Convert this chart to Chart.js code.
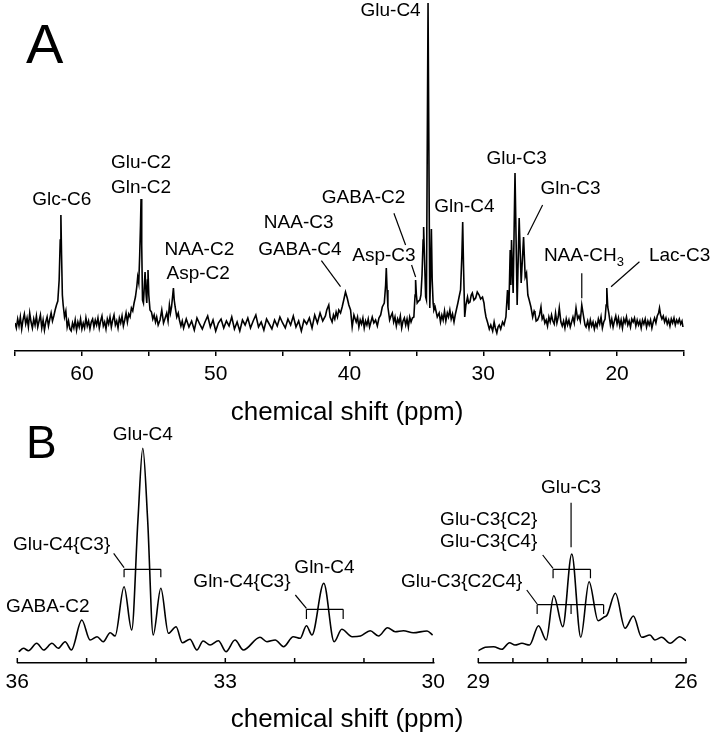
<!DOCTYPE html>
<html>
<head>
<meta charset="utf-8">
<script src="https://cdn.jsdelivr.net/npm/chart.js@4.4.1/dist/chart.umd.min.js"></script>
<style>
  html, body { margin: 0; padding: 0; background: #fff; }
  #wrap { position: relative; width: 714px; height: 737px; }
  canvas { position: absolute; left: 0; top: 0; }
</style>
</head>
<body>
<div id="wrap">
  <canvas id="chartA" width="714" height="737"></canvas>
  <canvas id="chartB1" width="714" height="737"></canvas>
  <canvas id="chartB2" width="714" height="737"></canvas>
</div>
<script>
// ---- panel A : full spectrum (ppm, intensity) ----
const ppmA = [
  65.0,64.9,64.8,64.7,64.6,64.5,64.4,64.3,64.2,64.1,
  64.0,63.9,63.8,63.7,63.6,63.5,63.4,63.3,63.2,63.1,
  63.0,62.9,62.8,62.7,62.6,62.5,62.4,62.3,62.2,62.1,
  62.0,61.9,61.8,61.7,61.62,61.57,61.52,61.46,61.4,61.3,
  61.2,61.1,61.0,60.9,60.8,60.7,60.6,60.5,60.4,60.3,
  60.2,60.1,60.0,59.9,59.8,59.7,59.6,59.5,59.4,59.3,
  59.2,59.1,59.0,58.9,58.8,58.7,58.6,58.5,58.4,58.3,
  58.2,58.1,58.0,57.9,57.8,57.7,57.6,57.5,57.4,57.3,
  57.2,57.1,57.0,56.9,56.8,56.7,56.6,56.5,56.4,56.3,
  56.2,56.1,56.0,55.9,55.83,55.75,55.68,55.62,55.58,55.53,
  55.47,55.4,55.33,55.28,55.2,55.15,55.1,55.06,55.0,54.91,
  54.8,54.7,54.6,54.5,54.41,54.3,54.16,54.03,53.9,53.8,
  53.66,53.56,53.46,53.38,53.3,53.16,53.1,53.03,52.91,52.8,
  52.71,52.6,52.5,
  52.4,52.2,52.0,51.8,51.6,51.4,51.2,51.0,50.8,50.6,
  50.4,50.2,50.0,49.8,49.6,49.4,49.2,49.0,48.8,48.6,
  48.4,48.2,48.0,47.8,47.6,47.4,47.2,47.0,46.8,46.6,
  46.4,46.2,46.0,45.8,45.6,45.4,45.2,45.0,44.8,44.6,
  44.4,44.2,44.0,43.8,43.6,43.4,43.2,43.0,42.8,42.6,
  42.4,42.2,42.0,41.8,
  41.7,41.55,41.45,41.3,41.2,41.1,41.0,40.9,40.8,40.67,
  40.55,40.43,40.3,40.17,40.05,39.92,39.8,39.67,39.5,39.4,
  39.3,39.2,39.1,39.0,38.9,38.8,38.7,38.6,38.5,38.4,
  38.3,38.18,38.05,37.92,37.8,37.67,37.55,37.4,37.3,37.25,
  37.19,37.13,37.0,36.9,36.8,36.7,36.6,36.5,36.4,36.3,
  36.2,36.1,36.0,35.9,35.8,35.7,35.6,35.5,35.4,35.3,
  35.19,35.1,35.06,35.0,34.94,34.84,34.74,34.66,34.58,34.5,
  34.46,34.38,34.31,34.25,34.13,34.0,33.94,33.88,
  33.82,33.75,33.69,33.6,33.44,33.3,33.2,33.1,33.0,32.9,
  32.8,32.69,32.6,32.5,32.4,32.3,32.19,32.1,32.0,31.9,
  31.81,31.7,31.6,31.54,31.48,31.39,31.3,31.18,31.1,31.0,
  30.9,30.82,30.7,30.57,30.45,30.31,30.2,30.06,29.95,29.89,
  29.8,29.69,29.55,29.44,29.3,29.19,29.1,28.99,28.9,28.81,
  28.7,28.56,28.45,
  28.31,28.19,28.09,27.99,27.94,27.89,27.77,27.63,27.47,27.32,
  27.17,26.99,26.87,26.77,26.67,26.57,26.44,26.31,26.2,26.14,
  26.05,25.94,
  25.8,25.69,25.6,25.5,25.4,25.3,25.2,25.1,25.0,24.9,
  24.8,24.7,24.6,24.5,24.4,24.32,24.2,24.1,24.0,23.9,
  23.8,23.7,23.6,23.5,23.4,23.3,23.2,23.07,22.95,22.85,
  22.75,22.64,22.5,22.4,22.32,22.2,22.1,22.0,21.9,21.8,
  21.7,21.6,21.5,21.4,21.3,21.2,21.1,21.0,20.9,20.82,
  20.77,20.7,20.62,20.5,20.4,20.3,20.2,20.1,20.0,19.9,
  19.8,19.7,19.6,19.5,19.4,19.3,19.2,19.1,19.0,18.9,
  18.8,18.7,18.6,18.5,18.4,18.3,18.2,18.1,18.0,17.9,
  17.8,17.7,17.6,17.5,17.4,17.3,17.2,17.1,17.0,16.9,
  16.83,16.75,16.65,16.55,16.45,16.35,16.25,16.15,16.05,15.95,
  15.85,15.75,15.65,15.55,15.45,15.35,15.25,15.15,15.08
];
const intA = [
  2,-3,6,-1,8,-4,5,11,1,7,
  -2,12,3,-3,6,0,9,-2,4,10,
  -3,5,-5,3,8,-1,6,12,4,9,
  15,20,24,45,85,110,70,30,20,8,
  14,-2,4,-4,-6,2,-3,5,-5,3,
  -2,6,-4,2,-3,7,-1,4,-4,3,
  6,-2,5,0,7,-3,4,9,-1,3,
  -4,6,1,8,-2,5,10,0,4,-3,
  7,2,9,-1,5,12,3,11,8,17,
  14,22,28,38,48,42,70,100,126,80,
  25,22,40,53,30,22,45,55,30,15,
  13,6,10,3,8,0,5,15,2,6,
  12,4,20,12,18,37,25,18,8,12,
  5,-1,4,
  -3,6,-2,4,-5,7,1,-4,3,9,
  -2,5,-6,2,6,-3,4,-1,8,-4,
  3,-6,5,0,7,-3,4,10,-2,3,
  -5,6,1,-4,5,-1,8,2,-3,6,
  0,9,-2,4,-6,5,1,7,-3,10,
  2,12,4,9,
  15,20,8,3,10,6,13,8,15,12,
  18,25,33,27,20,15,-2,10,3,8,
  -2,5,1,7,-3,4,0,6,-2,3,
  8,2,5,-1,7,10,18,22,40,57,
  35,18,5,9,12,3,8,-1,6,2,
  9,-3,4,7,0,6,-2,8,3,7,
  8,30,45,30,22,24,25,30,50,85,
  98,60,28,25,322,17,50,96,
  45,22,15,18,8,12,3,10,5,14,
  4,12,8,15,6,11,3,10,16,22,
  28,35,70,103,60,8,20,28,22,23,
  30,32,25,27,33,30,26,28,22,15,
  8,3,-4,0,-6,3,-3,-8,-2,0,
  -4,3,0,
  8,35,15,75,40,85,32,152,20,107,
  42,88,48,52,30,25,18,8,14,12,
  4,5,
  10,18,6,9,2,5,-1,8,3,10,
  4,1,12,2,8,17,3,-1,4,-3,
  6,0,5,-2,3,8,2,17,6,9,
  4,20,8,0,-2,4,-3,5,-1,3,
  -4,2,-2,6,1,8,-3,3,6,20,
  37,18,12,0,6,-2,4,9,1,7,
  -1,5,-3,6,2,8,0,4,-2,6,
  3,7,-1,5,0,4,-3,5,1,6,
  -2,4,0,5,-3,3,7,2,9,12,
  17,10,6,9,3,7,1,5,-1,6,
  2,7,0,5,2,6,1,4,-2
];
const ticksA = [60, 50, 40, 30, 20];

// ---- panel B left : 36-30 ppm ----
const ppmB1 = [35.98,35.91,35.84,35.72,35.62,35.50,35.41,35.31,35.22,35.07,
  34.95,34.85,34.76,34.66,34.59,34.46,34.35,34.26,34.19,34.12,
  34.04,33.93,33.82,33.71,33.62,33.51,33.41,33.32,33.22,33.10,
  32.99,32.86,32.74,32.50,32.40,32.28,32.16,32.02,31.92,31.83,
  31.75,31.58,31.43,31.32,31.17,31.05,30.91,30.79,30.66,30.55,
  30.43,30.29,30.09,30.01];
const intB1 = [11.3,14.7,12.3,19.7,13,19.7,14.7,21.3,13,43,
  23,26.3,21.3,30.3,27,76.3,33,143,214.7,143,
  28,74.7,29.7,36.3,20.3,23.7,13,22,18,22.3,
  11.3,23,13,25.7,21.3,23,16.3,26.3,24.7,37.3,
  28,79.7,21.3,33.7,26.3,27,32.3,27,35.3,31.3,
  32.3,30.3,32,28];
const ticksB1 = [36, 33, 30];

// ---- panel B right : 29-26 ppm ----
const ppmB2 = [29.00,28.90,28.78,28.66,28.55,28.47,28.37,28.26,28.13,28.02,
  27.91,27.78,27.65,27.52,27.40,27.27,27.19,27.14,27.02,26.88,
  26.76,26.64,26.52,26.45,26.35,26.23,26.09,26.00];
const intB2 = [12.3,15.7,16.3,13.7,20.3,18,19.7,18,37.3,23,
  67.3,36.3,109,25.7,81.3,42.3,45.7,48,69.7,34.7,
  47,25.7,28,23,25.7,19.7,26.3,22.3];
const ticksB2 = [29, 26];

// ---- peak assignments (text, ppm, intensity) ----
const namesA = [
  ['Glc-C6', 61.50, 125], ['Glu-C2', 55.58, 162], ['Gln-C2', 55.58, 137],
  ['NAA-C2', 51.22, 75], ['Asp-C2', 51.31, 51], ['NAA-C3', 43.80, 102],
  ['GABA-C4', 43.71, 75], ['GABA-C2', 38.95, 127.5], ['Asp-C3', 37.43, 69.5],
  ['Glu-C4', 36.93, 314], ['Gln-C4', 31.41, 118.3], ['Glu-C3', 27.51, 166],
  ['Gln-C3', 23.48, 136], ['NAA-CH', 22.48, 69, '3'], ['Lac-C3', 15.33, 69.3]
];
const leadersA = [
  [42.10, 64.3, 40.67, 38.3], [36.68, 111.7, 35.81, 80], [35.36, 60, 35.06, 48],
  [25.57, 120, 26.69, 90], [22.64, 51.7, 22.64, 26.7], [18.33, 63.3, 20.45, 38.3]
];
const namesB1 = [
  ['Glu-C4', 34.19, 228], ['Glu-C4{C3}', 35.36, 118], ['GABA-C2', 35.56, 56],
  ['Gln-C4', 31.57, 95], ['Gln-C4{C3}', 32.76, 81]
];
const leadersB1 = [[34.61, 109.7, 34.46, 95.3], [31.99, 68, 31.83, 54.7]];
const bracketsB1 = [
  { from: 34.46, to: 33.93, y: 93.7, d: 8, at: [34.46, 33.93] },
  { from: 31.83, to: 31.30, y: 53.7, d: 9.7, at: [31.83, 31.30] }
];
const namesB2 = [
  ['Glu-C3', 27.66, 175], ['Glu-C3{C2}', 28.85, 143], ['Glu-C3{C4}', 28.85, 121],
  ['Glu-C3{C2C4}', 29.24, 81]
];
const leadersB2 = [[27.66, 160.3, 27.66, 115.7], [28.07, 108, 27.92, 94.7], [28.30, 73, 28.15, 59]];
const bracketsB2 = [
  { from: 27.92, to: 27.38, y: 93.7, d: 9, at: [27.92, 27.38] },
  { from: 28.15, to: 27.19, y: 58.3, d: 9.3, at: [28.15, 27.66, 27.19] }
];

const FONT = '"Liberation Sans", Arial, Helvetica, sans-serif';

const notesPlugin = {
  id: 'notes',
  afterDatasetsDraw(chart, args, opts) {
    const ctx = chart.ctx;
    const px = v => chart.scales.x.getPixelForValue(v);
    const py = v => chart.scales.y.getPixelForValue(v);
    ctx.save();
    ctx.strokeStyle = '#000';
    ctx.fillStyle = '#000';
    ctx.lineWidth = 1.2;
    (opts.leaders || []).forEach(l => {
      ctx.beginPath();
      ctx.moveTo(px(l[0]), py(l[1]));
      ctx.lineTo(px(l[2]), py(l[3]));
      ctx.stroke();
    });
    (opts.brackets || []).forEach(b => {
      const y = py(b.y), y2 = py(b.y - b.d);
      ctx.beginPath();
      ctx.moveTo(px(b.from), y);
      ctx.lineTo(px(b.to), y);
      b.at.forEach(v => { ctx.moveTo(px(v), y); ctx.lineTo(px(v), y2); });
      ctx.stroke();
    });
    ctx.textBaseline = 'middle';
    (opts.names || []).forEach(n => {
      ctx.font = '19px ' + FONT;
      const x = px(n[1]), y = py(n[2]);
      if (n[3]) {
        const w1 = ctx.measureText(n[0]).width;
        ctx.font = '13px ' + FONT;
        const w2 = ctx.measureText(n[3]).width;
        const x0 = x - (w1 + w2) / 2;
        ctx.textAlign = 'left';
        ctx.fillText(n[3], x0 + w1, y + 6);
        ctx.font = '19px ' + FONT;
        ctx.fillText(n[0], x0, y);
      } else {
        ctx.textAlign = 'center';
        ctx.fillText(n[0], x, y);
      }
    });
    if (opts.innerTicks) {
      const bottom = chart.chartArea.bottom;
      ctx.lineWidth = 1.5;
      chart.scales.x.ticks.forEach(t => {
        const x = px(t.value);
        ctx.beginPath();
        ctx.moveTo(x, bottom);
        ctx.lineTo(x, bottom - 5);
        ctx.stroke();
      });
    }
    ctx.textBaseline = 'alphabetic';
    (opts.texts || []).forEach(t => {
      ctx.font = t.font;
      ctx.textAlign = t.align;
      ctx.fillText(t.text, t.x, t.y);
    });
    ctx.restore();
  }
};

function spectrum(id, xs, ys, smooth, xr, yr, step, labels, padding, axisH, tickLen, tickPad, notes) {
  return new Chart(document.getElementById(id), {
    type: 'line',
    data: {
      datasets: [{
        data: xs.map((x, i) => ({ x: x, y: ys[i] })),
        borderColor: '#000',
        borderWidth: 1.6,
        pointRadius: 0,
        tension: smooth ? 0.4 : 0,
        cubicInterpolationMode: smooth ? 'monotone' : 'default',
        fill: false
      }]
    },
    options: {
      responsive: false,
      animation: false,
      events: [],
      layout: { padding: padding },
      plugins: { legend: { display: false }, tooltip: { enabled: false }, notes: notes },
      scales: {
        x: {
          type: 'linear',
          reverse: true,
          min: xr[0], max: xr[1],
          afterFit: s => { s.height = axisH; s.paddingLeft = 0; s.paddingRight = 0; },
          border: { display: true, color: '#000', width: 1.5 },
          grid: {
            display: true,
            drawOnChartArea: false,
            drawTicks: tickLen > 0,
            tickLength: tickLen,
            color: '#000',
            lineWidth: 1.5
          },
          ticks: {
            stepSize: step,
            autoSkip: false,
            maxRotation: 0,
            minRotation: 0,
            padding: tickPad,
            color: '#000',
            font: { family: FONT, size: 21 },
            callback: v => labels.includes(v) ? String(v) : ''
          }
        },
        y: { type: 'linear', display: false, min: yr[0], max: yr[1] }
      }
    },
    plugins: [notesPlugin]
  });
}

// chart area A: x 15..684, y 2..351
spectrum('chartA', ppmA, intA, false, [15, 65], [-26, 323], 5, ticksA,
  { left: 15, right: 30, top: 2, bottom: 326 }, 60, 5, 5.6,
  { names: namesA, leaders: leadersA,
    texts: [
      { text: 'A', x: 26, y: 63.3, font: '56px ' + FONT, align: 'left' },
      { text: 'chemical shift (ppm)', x: 347, y: 420, font: '26px ' + FONT, align: 'center' }
    ] });

// chart areas B: y 440..663
spectrum('chartB1', ppmB1, intB1, true, [30, 36], [0, 223], 1, ticksB1,
  { left: 17.3, right: 280.7, top: 440, bottom: 34 }, 40, 0, 7,
  { names: namesB1, leaders: leadersB1, brackets: bracketsB1, innerTicks: true,
    texts: [
      { text: 'B', x: 26, y: 458.3, font: '46px ' + FONT, align: 'left' },
      { text: 'chemical shift (ppm)', x: 347, y: 726.7, font: '26px ' + FONT, align: 'center' }
    ] });

spectrum('chartB2', ppmB2, intB2, true, [26, 29], [0, 223], 0.5, ticksB2,
  { left: 478.3, right: 28, top: 440, bottom: 34 }, 40, 0, 7,
  { names: namesB2, leaders: leadersB2, brackets: bracketsB2, innerTicks: true });
</script>
</body>
</html>
